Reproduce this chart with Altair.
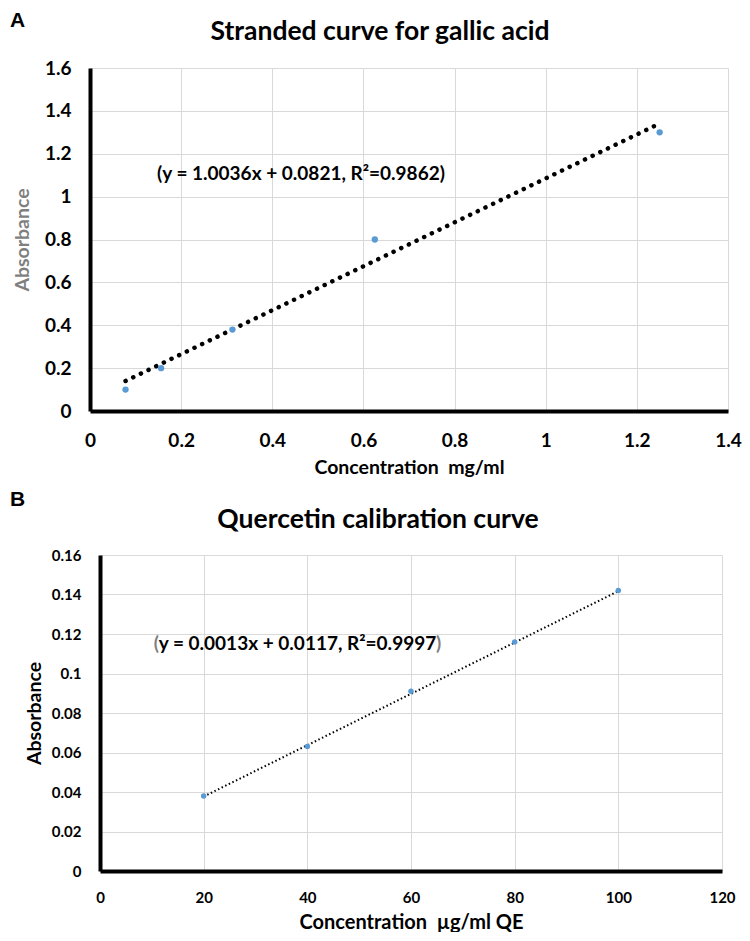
import altair as alt
import pandas as pd

# ---------------- Panel A: gallic acid ----------------
gallic_conc = [0.078, 0.156, 0.3125, 0.625, 1.25]
gallic_abs = [0.10, 0.20, 0.38, 0.80, 1.30]
gallic_trend_x = [0.078, 1.245]
gallic_trend_y = [0.140, 1.336]
gallic_x_ticks = [0, 0.2, 0.4, 0.6, 0.8, 1.0, 1.2, 1.4]
gallic_y_ticks = [0, 0.2, 0.4, 0.6, 0.8, 1.0, 1.2, 1.4, 1.6]
gallic_eq_text = ["(y = 1.0036x + 0.0821, R²=0.9862)"]
gallic_eq_x = [0.463]
gallic_eq_y = [1.106]

# ---------------- Panel B: quercetin ----------------
quer_conc = [20, 40, 60, 80, 100]
quer_abs = [0.038, 0.063, 0.091, 0.116, 0.142]
quer_trend_x = [20, 100]
quer_trend_y = [0.0377, 0.1417]
quer_x_ticks = [0, 20, 40, 60, 80, 100, 120]
quer_y_ticks = [0, 0.02, 0.04, 0.06, 0.08, 0.1, 0.12, 0.14, 0.16]
quer_eq_inner = ["y = 0.0013x + 0.0117, R²=0.9997"]
quer_eq_x = [38.1]
quer_eq_y = [0.1151]

panel_letters = ["A", "B"]
panel_titles = ["Stranded curve for gallic acid", "Quercetin calibration curve"]
x_titles = ["Concentration\u00a0 mg/ml", "Concentration\u00a0 µg/ml QE"]
y_title = "Absorbance"

FONT = "Lato"
POINT_COLOR = "#5b9bd5"
GRID = "#d9d9d9"
PAREN_GREY = "#7f7f7f"


def axis(values, title, title_color, label_size, label_pad, title_size,
         title_pad, offset=0):
    return alt.Axis(
        values=values, format="~r", title=title,
        grid=True, gridColor=GRID, gridWidth=1,
        ticks=False, tickSize=0, offset=offset,
        domain=True, domainColor="black", domainWidth=4,
        labelFont=FONT, labelFontWeight="bold", labelFontSize=label_size,
        labelColor="black", labelPadding=label_pad,
        labelFlush=False, labelOverlap=False,
        titleFont=FONT, titleFontWeight="bold", titleFontSize=title_size,
        titleColor=title_color, titlePadding=title_pad,
    )


def text_layer(x_enc, y_enc, xs, ys, texts, color, align="center", dx=0):
    return alt.Chart(pd.DataFrame({"x": xs, "y": ys, "t": texts})).mark_text(
        font=FONT, fontWeight="bold", fontSize=19, color=color,
        align=align, baseline="middle", dx=dx
    ).encode(x=x_enc, y=y_enc, text="t:N")


def panel(conc, absb, tx, ty, xdom, ydom, xt, yt, eq_x, eq_y,
          letter, title, xtitle, ytitle_color, w, h, xrange, yoffset,
          label_size, xlab_pad, xtitle_pad, ylab_pad, ytitle_pad,
          xtitle_size, ytitle_size,
          pt_size, trend_width, trend_dash, trend_cap, letter_xy, title_xy,
          eq_text=None, eq_inner=None, eq_half=0):
    x_enc = alt.X("x:Q", scale=alt.Scale(domain=xdom, nice=False, zero=False,
                                         range=xrange),
                  axis=axis(xt, xtitle, "black", label_size, xlab_pad,
                            xtitle_size, xtitle_pad))
    y_enc = alt.Y("y:Q", scale=alt.Scale(domain=ydom, nice=False, zero=False),
                  axis=axis(yt, y_title, ytitle_color, label_size, ylab_pad,
                            ytitle_size, ytitle_pad, yoffset))

    pts = alt.Chart(pd.DataFrame({"x": conc, "y": absb})).mark_circle(
        size=pt_size, color=POINT_COLOR, opacity=1
    ).encode(x=x_enc, y=y_enc)

    trend = alt.Chart(pd.DataFrame({"x": tx, "y": ty})).mark_line(
        color="black", strokeWidth=trend_width, strokeDash=trend_dash,
        strokeCap=trend_cap
    ).encode(x=x_enc, y=y_enc)

    layers = [trend, pts]

    if eq_text is not None:
        layers.append(text_layer(x_enc, y_enc, eq_x, eq_y, eq_text, "black"))
    if eq_inner is not None:
        layers.append(text_layer(x_enc, y_enc, eq_x, eq_y, eq_inner, "black"))
        layers.append(text_layer(x_enc, y_enc, eq_x, eq_y, ["("], PAREN_GREY,
                                 align="right", dx=-eq_half))
        layers.append(text_layer(x_enc, y_enc, eq_x, eq_y, [")"], PAREN_GREY,
                                 align="left", dx=eq_half))

    layers.append(alt.Chart(pd.DataFrame({"t": [letter]})).mark_text(
        font="Liberation Sans", fontWeight="bold", fontSize=21, color="black",
        align="left", baseline="top"
    ).encode(text="t:N", x=alt.value(letter_xy[0]), y=alt.value(letter_xy[1])))

    layers.append(alt.Chart(pd.DataFrame({"t": [title]})).mark_text(
        font=FONT, fontWeight="bold", fontSize=26.5, color="black",
        align="center", baseline="middle"
    ).encode(text="t:N", x=alt.value(title_xy[0]), y=alt.value(title_xy[1])))

    return alt.layer(*layers).properties(width=w, height=h)


chart_a = panel(gallic_conc, gallic_abs, gallic_trend_x, gallic_trend_y,
                [0, 1.4], [0, 1.6], gallic_x_ticks, gallic_y_ticks,
                gallic_eq_x, gallic_eq_y,
                panel_letters[0], panel_titles[0], x_titles[0], "#7f7f7f",
                638, 343, [0, 638], 0,
                19, 20, 8, 19, 12, 19.5, 19.5,
                40, 4.5, [0.1, 8.4], "round", (-80, -58), (290, -36),
                eq_text=gallic_eq_text)

chart_b = panel(quer_conc, quer_abs, quer_trend_x, quer_trend_y,
                [0, 120], [0, 0.16], quer_x_ticks, quer_y_ticks,
                quer_eq_x, quer_eq_y,
                panel_letters[1], panel_titles[1], x_titles[1], "black",
                632, 316, [10, 632], -10,
                15, 19, 7, 19, 7, 20, 19.5,
                30, 2, [1.5, 2.5], "butt", (-80, -66.5), (288, -35),
                eq_inner=quer_eq_inner, eq_half=138.5)

chart = alt.vconcat(chart_a, chart_b, spacing=11).properties(
    padding={"left": 2, "top": 2, "right": 0, "bottom": 0}
).configure_view(stroke=None)

chart.save("out.html", embed_options={"renderer": "svg", "actions": False})
